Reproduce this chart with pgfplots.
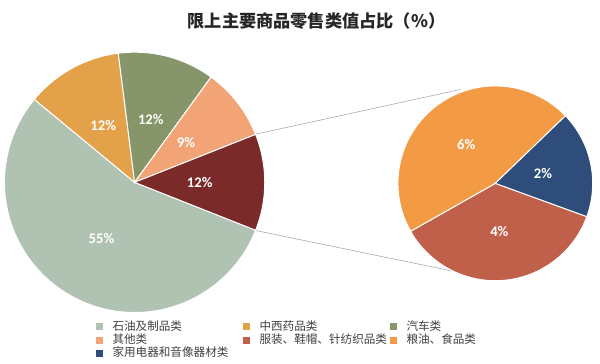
\documentclass[border=0pt]{standalone}
\usepackage{pgfplots}
\pgfplotsset{compat=1.18}
\usepackage{pgfplotstable}
\usepackage{fontspec}
\setmainfont{Carlito}
\newfontfamily\cjk{Noto Sans CJK SC}

\definecolor{cOil}{HTML}{B0C2B2}
\definecolor{cMed}{HTML}{E3A14A}
\definecolor{cCar}{HTML}{86966A}
\definecolor{cOther}{HTML}{F2A477}
\definecolor{cRest}{HTML}{7B2A2A}
\definecolor{cCloth}{HTML}{C0604A}
\definecolor{cFood}{HTML}{F39A45}
\definecolor{cElec}{HTML}{2E4D7A}

% main pie (clockwise from -21.6 deg)
\pgfplotstableread{
value color
55 cOil
12 cMed
12 cCar
9 cOther
12 cRest
}\maindata
% secondary pie (breakdown of the 12%)
\pgfplotstableread{
value color
4.35 cCloth
5.52 cFood
2.13 cElec
}\subdata

% #1 table, #2 rows-1, #3 cx, #4 cy, #5 r (px), #6 start angle, #7 total
\newcommand\drawpie[7]{%
  \def\ang{#6}%
  \pgfplotsforeachungrouped \i in {0,...,#2}{%
    \pgfplotstablegetelem{\i}{value}\of#1\let\v\pgfplotsretval
    \pgfplotstablegetelem{\i}{color}\of#1\let\c\pgfplotsretval
    \pgfmathsetmacro\endang{\ang-(\v/#7)*360}%
    \pgfmathsetmacro\midang{(\ang+\endang)/2}%
    \pgfmathsetmacro\lx{#3+0.5*#5*cos(\midang)}%
    \pgfmathsetmacro\ly{#4+0.5*#5*sin(\midang)}%
    \pgfmathsetmacro\rr{#5*0.025}%
    \edef\temp{\noexpand\fill[\c, draw=white, line width=0.7pt] (axis cs:#3,#4) -- ++(\ang:\rr cm) arc[start angle=\ang, end angle=\endang, radius=\rr cm] -- cycle;
      \noexpand\node[font=\noexpand\bfseries\noexpand\fontsize{10.5}{12}\noexpand\selectfont, text=white] at (axis cs:\lx,\ly) {\noexpand\pgfmathprintnumber[fixed,precision=0,assume math mode=true]{\v}\noexpand\%};}%
    \temp
    \let\ang\endang
  }%
}

\begin{document}
\begin{tikzpicture}
\begin{axis}[
  scale only axis, width=15cm, height=9.1cm,
  xmin=0, xmax=600, ymin=0, ymax=364,
  hide axis, clip=false,
  legend columns=3,
  legend cell align=left,
  legend style={at={(axis cs:92,46)}, anchor=north west, draw=none, fill=none,
    font=\cjk\fontsize{8.3}{10}\selectfont, text=black!75,
    row sep=-1.5pt, nodes={inner sep=1.2pt},
    /tikz/every odd column/.append style={column sep=0.2cm},
    /tikz/every even column/.append style={text width=3.25cm}},
]
\fill[white] (rel axis cs:0,0) rectangle (rel axis cs:1,1);
\addplot[forget plot, color=black!35, line width=0.4pt] coordinates {(257,229) (463,274)};
\addplot[forget plot, color=black!35, line width=0.4pt] coordinates {(257,132) (480,86)};
\drawpie{\maindata}{4}{135}{180.5}{131}{-21.6}{100}
\drawpie{\subdata}{2}{498}{179.5}{98}{-20}{12}
\node[font=\cjk\bfseries\fontsize{12.3}{14}\selectfont, text=black!85] at (axis cs:318,343) {限上主要商品零售类值占比（\%）};
\addlegendimage{legend image code/.code={\fill[cOil] (0,-0.075cm) rectangle (0.15cm,0.075cm);}}
\addlegendimage{legend image code/.code={\fill[cMed] (0,-0.075cm) rectangle (0.15cm,0.075cm);}}
\addlegendimage{legend image code/.code={\fill[cCar] (0,-0.075cm) rectangle (0.15cm,0.075cm);}}
\addlegendimage{legend image code/.code={\fill[cOther] (0,-0.075cm) rectangle (0.15cm,0.075cm);}}
\addlegendimage{legend image code/.code={\fill[cCloth] (0,-0.075cm) rectangle (0.15cm,0.075cm);}}
\addlegendimage{legend image code/.code={\fill[cFood] (0,-0.075cm) rectangle (0.15cm,0.075cm);}}
\addlegendimage{legend image code/.code={\fill[cElec] (0,-0.075cm) rectangle (0.15cm,0.075cm);}}
\legend{石油及制品类, 中西药品类, 汽车类, 其他类, 服装、鞋帽、针纺织品类, 粮油、食品类, 家用电器和音像器材类}
\end{axis}
\end{tikzpicture}
\end{document}
